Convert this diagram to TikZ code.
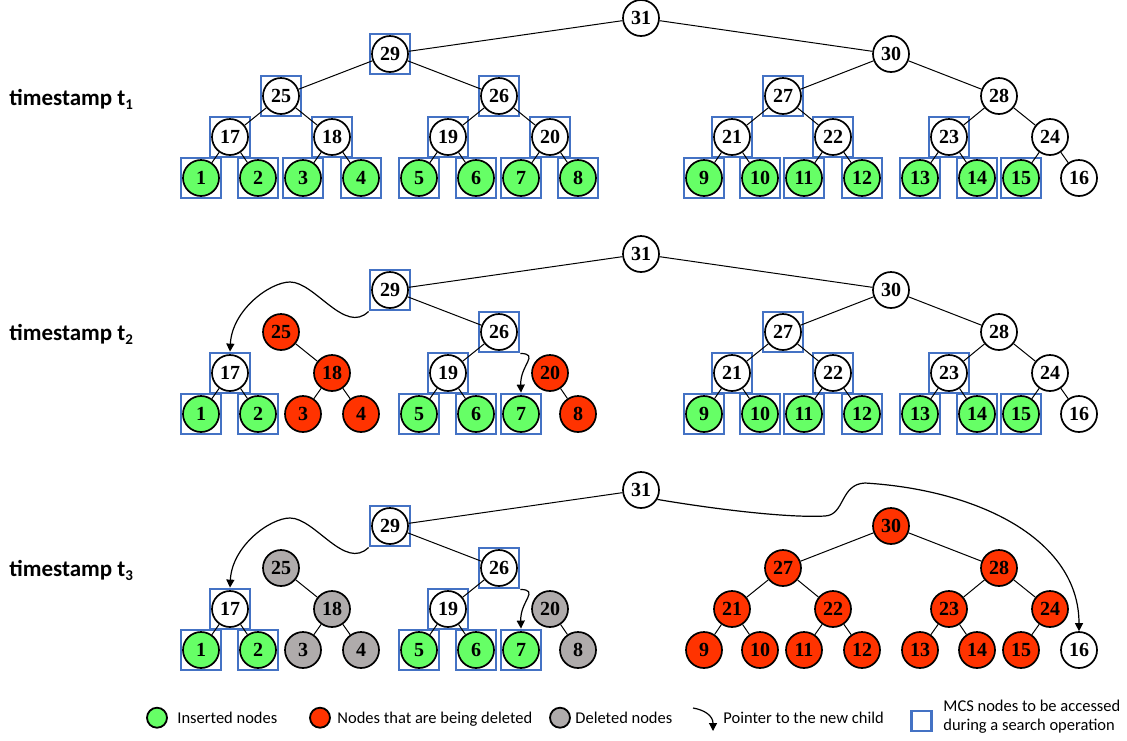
\documentclass[tikz,border=0pt]{standalone}
\usepackage{fontspec}
\setmainfont{Liberation Serif}
\newfontfamily\calfont{Carlito}
\usetikzlibrary{arrows.meta}
\definecolor{ingreen}{HTML}{66FF66}
\definecolor{delred}{HTML}{FF3300}
\definecolor{delgray}{HTML}{AFABAB}
\definecolor{mcsblue}{HTML}{4472C4}
\tikzset{
 tn/.style={circle, draw=black, line width=0.85pt, minimum size=18pt, inner sep=0pt,
   font=\fontsize{10}{10}\selectfont\bfseries, fill=white},
 wn/.style={tn},
 gn/.style={tn, fill=ingreen},
 rn/.style={tn, fill=delred},
 yn/.style={tn, fill=delgray},
 mcs/.style={draw=mcsblue, line width=1.4pt, minimum size=20pt, inner sep=0pt},
 edge/.style={line width=0.5pt},
 ptr/.style={line width=0.6pt, -{Triangle[length=4pt,width=4pt]}},
 tslabel/.style={anchor=base west, inner sep=0pt, font=\calfont\bfseries\fontsize{11.5}{13}\selectfont},
 legtext/.style={anchor=base west, inner sep=0pt, font=\calfont\fontsize{8.25}{9.5}\selectfont},
 legdot/.style={circle, draw=black, line width=0.9pt, minimum size=10pt, inner sep=0pt},
}
\newcommand\treecoords[2]{%
 \foreach \n/\x/\y in {31/641/18, 29/390/54, 30/891/54, 25/281/96, 26/499/96, 27/783/96, 28/999/96,
   17/230/137, 18/332/137, 19/448/137, 20/550/137, 21/732/137, 22/833/137, 23/949/137, 24/1050/137,
   1/201/178, 2/258/178, 3/303/178, 4/361/178, 5/419/178, 6/476/178, 7/521/178, 8/578/178,
   9/704/178, 10/760/178, 11/804/178, 12/862/178, 13/920/178, 14/977/178, 15/1021/178, 16/1079/178}
 {\coordinate (#1p\n) at (\x,\y+#2);}%
}
\newcommand\mysubs[1]{\raisebox{-2pt}{\fontsize{7.5}{8}\selectfont #1}}
\begin{document}
\begin{tikzpicture}[x=0.5pt,y=-0.5pt]
\useasboundingbox (0,0) rectangle (1127,740);
\treecoords{a}{0}
\treecoords{b}{236}
\treecoords{c}{472}
% ---------- t1
\foreach \n/\s in {31/wn,29/wn,30/wn,25/wn,26/wn,27/wn,28/wn,17/wn,18/wn,19/wn,20/wn,21/wn,22/wn,23/wn,24/wn,
  1/gn,2/gn,3/gn,4/gn,5/gn,6/gn,7/gn,8/gn,9/gn,10/gn,11/gn,12/gn,13/gn,14/gn,15/gn,16/wn}
  {\node[\s] (an\n) at (ap\n) {\n};}
\foreach \n in {29,25,26,17,18,19,20,1,2,3,4,5,6,7,8,27,21,22,23,9,10,11,12,13,14,15}
  {\node[mcs] (am\n) at (ap\n) {};}
\foreach \p/\c in {31/29,31/30,29/25,29/26,25/17,25/18,26/19,26/20,17/1,17/2,18/3,18/4,19/5,19/6,20/7,20/8,
  30/27,30/28,27/21,27/22,28/23,28/24,21/9,21/10,22/11,22/12,23/13,23/14,24/15,24/16}
  {\draw[edge] (an\p) -- (an\c);}
% ---------- t2
\foreach \n/\s in {31/wn,29/wn,30/wn,25/rn,26/wn,27/wn,28/wn,17/wn,18/rn,19/wn,20/rn,21/wn,22/wn,23/wn,24/wn,
  1/gn,2/gn,3/rn,4/rn,5/gn,6/gn,7/gn,8/rn,9/gn,10/gn,11/gn,12/gn,13/gn,14/gn,15/gn,16/wn}
  {\node[\s] (bn\n) at (bp\n) {\n};}
\foreach \n in {29,26,17,19,1,2,5,6,7,27,21,22,23,9,10,11,12,13,14,15}
  {\node[mcs] (bm\n) at (bp\n) {};}
\foreach \p/\c in {31/29,31/30,29/26,25/18,26/19,17/1,17/2,18/3,18/4,19/5,19/6,20/8,
  30/27,30/28,27/21,27/22,28/23,28/24,21/9,21/10,22/11,22/12,23/13,23/14,24/15,24/16}
  {\draw[edge] (bn\p) -- (bn\c);}
\draw[ptr] (bm29.south west) .. controls (345,335) and (315,282) .. (290,282)
  .. controls (270,282) and (232,310) .. (bm17.north);
\draw[ptr] (bm26.south east) .. controls (540,354) and (520,365) .. (bm7.north);
% ---------- t3
\foreach \n/\s in {31/wn,29/wn,30/rn,25/yn,26/wn,27/rn,28/rn,17/wn,18/yn,19/wn,20/yn,21/rn,22/rn,23/rn,24/rn,
  1/gn,2/gn,3/yn,4/yn,5/gn,6/gn,7/gn,8/yn,9/rn,10/rn,11/rn,12/rn,13/rn,14/rn,15/rn,16/wn}
  {\node[\s] (cn\n) at (cp\n) {\n};}
\foreach \n in {29,26,17,19,1,2,5,6,7}
  {\node[mcs] (cm\n) at (cp\n) {};}
\foreach \p/\c in {31/29,29/26,25/18,26/19,17/1,17/2,18/3,18/4,19/5,19/6,20/8,
  30/27,30/28,27/21,27/22,28/23,28/24,21/9,21/10,22/11,22/12,23/13,23/14,24/15}
  {\draw[edge] (cn\p) -- (cn\c);}
\draw[ptr] (cm29.south west) .. controls (345,571) and (315,518) .. (290,518)
  .. controls (270,518) and (232,546) .. (cm17.north);
\draw[ptr] (cm26.south east) .. controls (540,590) and (520,601) .. (cm7.north);
\draw[ptr] (cn31.-30) .. controls (720,510) and (790,518) .. (825,516)
  .. controls (845,515) and (840,484) .. (865,483)
  .. controls (980,490) and (1079,540) .. (cn16.north);
% ---------- labels
\node[tslabel] (ts1) at (9,105) {timestamp t\mysubs{1}};
\node[tslabel] (ts2) at (9,340) {timestamp t\mysubs{2}};
\node[tslabel] (ts3) at (9,576) {timestamp t\mysubs{3}};
% ---------- legend
\node[legdot, fill=ingreen] (lg1) at (157,717.7) {};
\node[legtext] (lt1) at (177,723) {Inserted nodes};
\node[legdot, fill=delred] (lg2) at (320,717.7) {};
\node[legtext] (lt2) at (337,723) {Nodes that are being deleted};
\node[legdot, fill=delgray] (lg3) at (560,717.7) {};
\node[legtext] (lt3) at (575,723) {Deleted nodes};
\coordinate (la1) at (693,708);
\coordinate (la2) at (713,731);
\draw[ptr] (la1) .. controls (705,710) and (713,716) .. (la2);
\node[legtext] (lt4) at (723,723) {Pointer to the new child};
\node[mcs, minimum size=10pt] (lm) at (921.7,721) {};
\node[legtext] (lt5) at (943,711.7) {MCS nodes to be accessed};
\node[legtext] (lt6) at (943,730) {during a search operation};
\end{tikzpicture}
\end{document}
